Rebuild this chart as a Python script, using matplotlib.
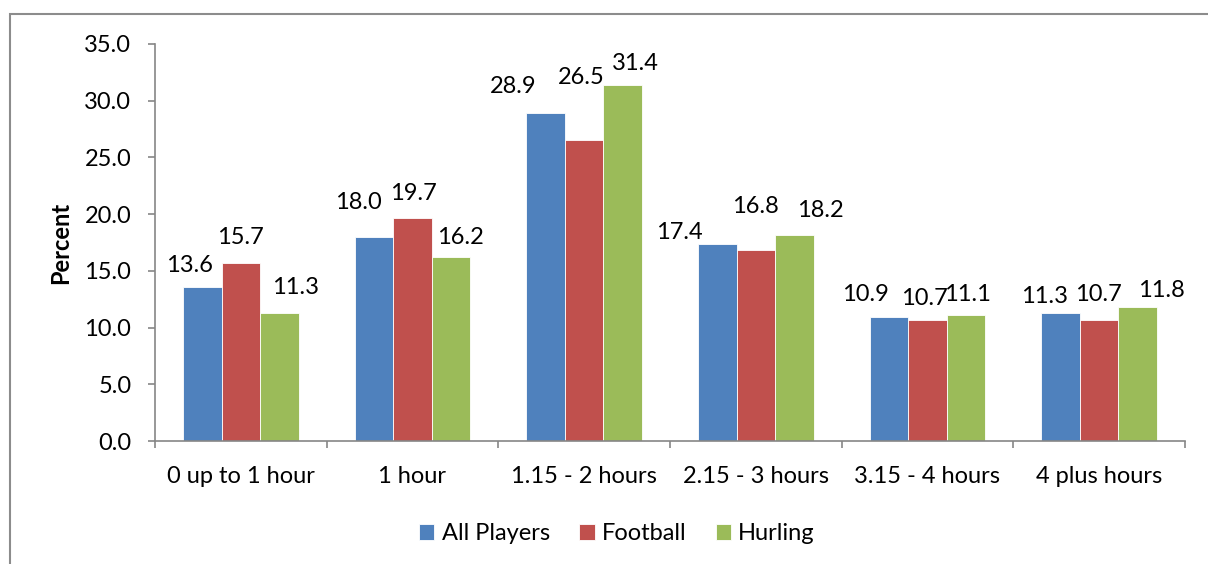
import matplotlib
matplotlib.use("Agg")
import matplotlib.pyplot as plt
from matplotlib.patches import Rectangle
import numpy as np

categories = ["0 up to 1 hour", "1 hour", "1.15 - 2 hours", "2.15 - 3 hours", "3.15 - 4 hours", "4 plus hours"]
series_names = ["All Players", "Football", "Hurling"]
all_players = [13.6, 18.0, 28.9, 17.4, 10.9, 11.3]
football = [15.7, 19.7, 26.5, 16.8, 10.7, 10.7]
hurling = [11.3, 16.2, 31.4, 18.2, 11.1, 11.8]
yticks = [0, 5, 10, 15, 20, 25, 30, 35]

colors = ["#4F81BD", "#C0504D", "#9BBB59"]

# label offsets (pixels: dx, up) per series per category, mimicking Excel's placement
label_offsets = [
    [(-13, 23.5), (-15.5, 36), (-32, 29), (-38, 13), (-24, 25), (-16, 18)],
    [(0, 27), (0.5, 26.5), (-3, 65), (0, 45.5), (-3, 23.5), (-1, 27)],
    [(16, 27), (9, 21.5), (12.5, 23.5), (25.5, 26), (1.5, 23), (24, 19)],
]

FS = 17
plt.rcParams["font.family"] = ["Lato", "DejaVu Sans"]
W, H = 1208, 564
fig = plt.figure(figsize=(W / 100, H / 100), dpi=100)
ax = fig.add_axes([155 / W, 1 - 441 / H, (1185 - 155) / W, (441 - 44) / H])

# outer frame
fig.patches.append(Rectangle((10 / W, -0.1), 1.2, 1 - 14 / H + 0.1, transform=fig.transFigure,
                             fill=False, edgecolor="#8C8C8C", linewidth=1.5))

x = np.arange(len(categories))
bw = 0.2245
data = [all_players, football, hurling]
px2pt = 72 / 100
for i, (vals, c) in enumerate(zip(data, colors)):
    xs = x + (i - 1) * bw
    ax.bar(xs, vals, width=bw, color=c, edgecolor="white", linewidth=0.6, label=series_names[i], zorder=2)
    for j, (xx, v) in enumerate(zip(xs, vals)):
        dx, up = label_offsets[i][j]
        ax.annotate(f"{v:.1f}", (xx, v), xytext=(dx * px2pt, up * px2pt), textcoords="offset points",
                    ha="center", va="center_baseline", fontsize=FS, color="black")

ax.set_xlim(-0.5, len(categories) - 0.5)
ax.set_ylim(0, 35)
ax.set_yticks(yticks)
ax.set_yticklabels([f"{t:.1f}" for t in yticks], fontsize=FS)
ax.set_xticks(np.arange(-0.5, len(categories), 1.0))
ax.set_xticklabels([])
ax.set_xticks(x, minor=True)
ax.set_xticklabels(categories, minor=True, fontsize=FS)
ax.tick_params(axis="x", which="minor", length=0, pad=18)
ax.tick_params(axis="x", which="major", length=5, color="#868686", width=1.2, direction="out")
ax.tick_params(axis="y", length=5, color="#868686", width=1.2, direction="out", pad=12)
for s in ["top", "right"]:
    ax.spines[s].set_visible(False)
for s in ["left", "bottom"]:
    ax.spines[s].set_color("#868686")
    ax.spines[s].set_linewidth(1.2)
ax.set_ylabel("Percent", fontsize=FS, fontweight="bold", labelpad=9)

ax.legend(loc="center", bbox_to_anchor=(0.4485, -0.234), ncol=3, frameon=False, fontsize=FS,
          handlelength=0.65, handleheight=0.65, handletextpad=0.3, columnspacing=1.25)

fig.savefig("out.png", dpi=100)
